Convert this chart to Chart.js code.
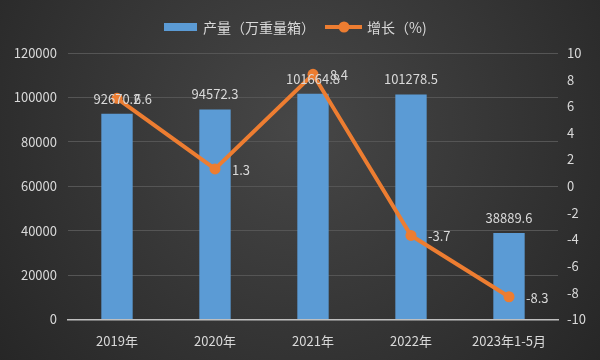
<!DOCTYPE html>
<html>
<head>
<meta charset="utf-8">
<script src="https://cdn.jsdelivr.net/npm/chart.js@4"></script>
<style>
  html, body { margin: 0; padding: 0; background: #2b2b2b; }
  #wrap { width: 600px; height: 360px; position: relative; }
</style>
</head>
<body>
<div id="wrap"><canvas id="chart1" width="600" height="360"></canvas></div>
<script>
const categories = ['2019年', '2020年', '2021年', '2022年', '2023年1-5月'];
const output = [92670.2, 94572.3, 101664.8, 101278.5, 38889.6];
const growth = [6.6, 1.3, 8.4, -3.7, -8.3];
const seriesNames = ['产量（万重量箱）', '增长（%)'];

const FONT = '"Noto Sans CJK SC", "Microsoft YaHei", sans-serif';
const TEXT = '#d9d9d9';
const BLUE = '#5b9bd5';
const ORANGE = '#ed7d31';

// 背景渐变
const bgPlugin = {
    id: 'bg',
    beforeDraw(chart) {
        const ctx = chart.ctx;
        const w = chart.width, h = chart.height;
        const g = ctx.createRadialGradient(w * 0.5, h * 0.35, 10, w * 0.5, h * 0.35, w * 0.7);
        g.addColorStop(0, '#464646');
        g.addColorStop(1, '#232323');
        ctx.save();
        ctx.fillStyle = g;
        ctx.fillRect(0, 0, w, h);
        ctx.restore();
    }
};

// 数据标签 + 图例
const labelPlugin = {
    id: 'labels',
    afterDatasetsDraw(chart) {
        const ctx = chart.ctx;
        ctx.save();
        ctx.font = '13px ' + FONT;
        ctx.fillStyle = TEXT;

        // 柱子标签
        const barMeta = chart.getDatasetMeta(0);
        ctx.textAlign = 'center';
        ctx.textBaseline = 'middle';
        barMeta.data.forEach((el, i) => {
            ctx.fillText(output[i].toFixed(1), el.x, el.y - 15);
        });

        // 折线标签
        const lineMeta = chart.getDatasetMeta(1);
        ctx.textAlign = 'left';
        lineMeta.data.forEach((el, i) => {
            ctx.fillText(growth[i].toFixed(1), el.x + 17, el.y + 1);
        });

        // 图例
        const ly = 27;
        ctx.fillStyle = BLUE;
        ctx.fillRect(164, ly - 4, 33, 8);
        ctx.fillStyle = TEXT;
        ctx.font = '14px ' + FONT;
        ctx.textAlign = 'left';
        ctx.fillText(seriesNames[0], 203, ly + 1);
        ctx.strokeStyle = ORANGE;
        ctx.lineWidth = 4;
        ctx.beginPath();
        ctx.moveTo(325, ly);
        ctx.lineTo(362, ly);
        ctx.stroke();
        ctx.fillStyle = ORANGE;
        ctx.beginPath();
        ctx.arc(344, ly, 5.5, 0, Math.PI * 2);
        ctx.fill();
        ctx.fillStyle = TEXT;
        ctx.fillText(seriesNames[1], 367, ly + 1);
        ctx.restore();
    }
};

const ctx1 = document.getElementById('chart1').getContext('2d');
const chart1 = new Chart(ctx1, {
    type: 'bar',
    data: {
        labels: categories,
        datasets: [{
            label: seriesNames[0],
            data: output,
            backgroundColor: BLUE,
            categoryPercentage: 1,
            barPercentage: 0.32,
            yAxisID: 'y',
            order: 2
        }, {
            type: 'line',
            label: seriesNames[1],
            data: growth,
            borderColor: ORANGE,
            backgroundColor: ORANGE,
            borderWidth: 4,
            pointRadius: 5.5,
            pointHoverRadius: 5.5,
            pointBackgroundColor: ORANGE,
            pointBorderWidth: 0,
            tension: 0,
            yAxisID: 'y1',
            order: 1
        }]
    },
    options: {
        responsive: false,
        animation: false,
        devicePixelRatio: 1,
        layout: { padding: { top: 53, left: 8, right: 0, bottom: 5 } },
        plugins: {
            legend: { display: false },
            tooltip: { enabled: false }
        },
        scales: {
            x: {
                grid: { display: false },
                border: { color: '#bfbfbf', width: 1.5 },
                ticks: { color: TEXT, font: { family: FONT, size: 13 }, padding: 6, maxRotation: 0, autoSkip: false }
            },
            y: {
                position: 'left',
                min: 0,
                max: 120000,
                afterFit: s => { s.width = 60; },
                ticks: { stepSize: 20000, color: TEXT, font: { family: FONT, size: 13 }, padding: 11,
                         callback: v => String(v) },
                grid: { color: '#555555', drawTicks: false },
                border: { display: false }
            },
            y1: {
                position: 'right',
                min: -10,
                max: 10,
                afterFit: s => { s.width = 42; },
                ticks: { stepSize: 2, color: TEXT, font: { family: FONT, size: 13 }, padding: 9,
                         callback: v => String(v) },
                grid: { display: false, drawTicks: false },
                border: { display: false }
            }
        }
    },
    plugins: [bgPlugin, labelPlugin]
});
</script>
</body>
</html>
